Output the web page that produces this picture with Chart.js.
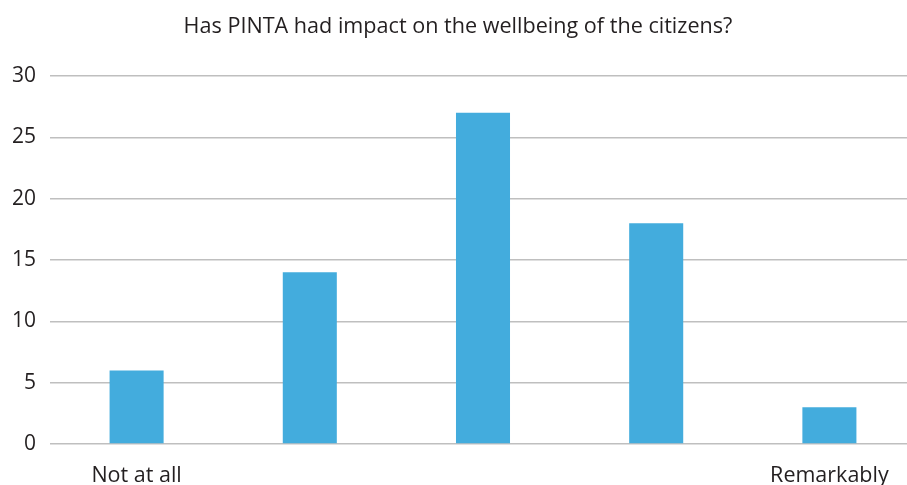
<!DOCTYPE html>
<html>
<head>
<meta charset="utf-8">
<script src="https://cdn.jsdelivr.net/npm/chart.js@4/dist/chart.umd.min.js"></script>
<style>
html,body{margin:0;padding:0;overflow:hidden;background:#fff;}
#wrap{width:916px;height:485px;}
</style>
</head>
<body>
<div id="wrap"><canvas id="c" width="916" height="485"></canvas></div>
<script>
const titleText = "Has PINTA had impact on the wellbeing of the citizens?";
const categories = ["Not at all", "", "", "", "Remarkably"];
const responses = [6, 14, 27, 18, 3];
const yMin = 0, yMax = 30, yStep = 5;

const FONT = "'Open Sans', 'Noto Sans', sans-serif";
const TEXT = "#231f20";

new Chart(document.getElementById('c'), {
  type: 'bar',
  data: {
    labels: categories,
    datasets: [{
      data: responses,
      backgroundColor: '#43acdd',
      borderWidth: 0,
      categoryPercentage: 1,
      barPercentage: 0.312
    }]
  },
  options: {
    responsive: false,
    devicePixelRatio: 1,
    animation: false,
    layout: { padding: { left: 0, right: 0, top: 0, bottom: 0 } },
    plugins: {
      legend: { display: false },
      tooltip: { enabled: false },
      title: {
        display: true,
        text: titleText,
        color: TEXT,
        font: { family: FONT, size: 21.6, weight: 'normal' },
        padding: { top: 13.5, bottom: 36.6 }
      }
    },
    scales: {
      x: {
        grid: { display: false, drawTicks: false },
        border: { display: false },
        ticks: {
          color: TEXT,
          font: { family: FONT, size: 21.5 },
          padding: 19,
          autoSkip: false,
          maxRotation: 0
        },
        afterFit: (s) => { s.height = 41; }
      },
      y: {
        min: yMin, max: yMax,
        grid: { color: '#bfbfbf', lineWidth: 1.5, drawTicks: false },
        border: { display: false },
        ticks: {
          stepSize: yStep,
          color: TEXT,
          font: { family: FONT, size: 21 },
          padding: 14
        },
        afterFit: (s) => { s.width = 50; }
      }
    }
  }
});
</script>
</body>
</html>
